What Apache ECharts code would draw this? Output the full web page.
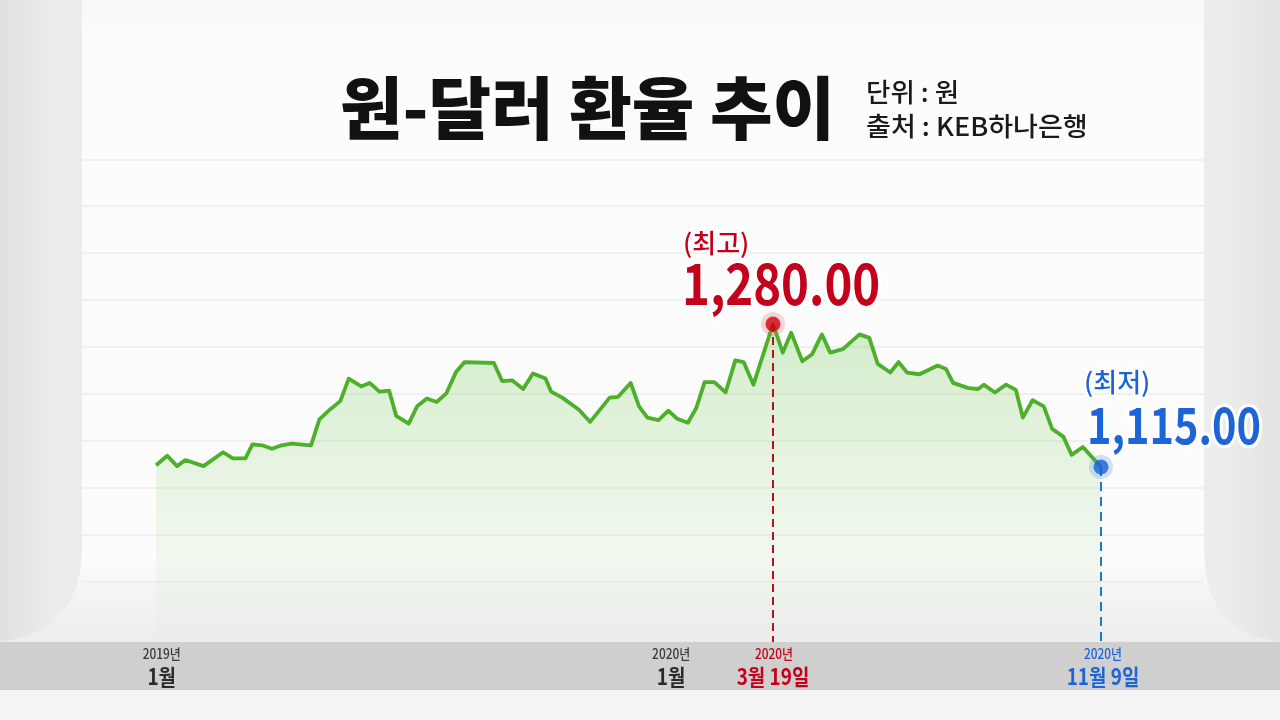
<!DOCTYPE html>
<html><head><meta charset="utf-8">
<script src="https://cdn.jsdelivr.net/npm/echarts@6/dist/echarts.min.js"></script>
<style>html,body{margin:0;padding:0;background:#e4e4e4}#c{width:1280px;height:720px}</style>
</head><body><div id="c"></div>
<script>
// ---- data ----
const dates = ['2019-01-02','2019-01-10','2019-01-17','2019-01-23','2019-02-05','2019-02-19','2019-02-26',
'2019-03-07','2019-03-12','2019-03-19','2019-03-26','2019-04-02','2019-04-09','2019-04-23','2019-04-29',
'2019-05-07','2019-05-14','2019-05-20','2019-05-29','2019-06-04','2019-06-11','2019-06-18','2019-06-23',
'2019-07-02','2019-07-08','2019-07-15','2019-07-22','2019-07-29','2019-08-05','2019-08-11','2019-09-01',
'2019-09-07','2019-09-14','2019-09-22','2019-09-29','2019-10-08','2019-10-12','2019-10-20','2019-11-01',
'2019-11-09','2019-11-23','2019-11-29','2019-12-08','2019-12-14','2019-12-20','2019-12-28',
'2020-01-04','2020-01-10','2020-01-18','2020-01-24','2020-01-30','2020-02-06','2020-02-14','2020-02-21',
'2020-02-27','2020-03-05','2020-03-19','2020-03-26','2020-04-01','2020-04-09','2020-04-16','2020-04-23',
'2020-04-29','2020-05-08','2020-05-20','2020-05-27','2020-06-02','2020-06-11','2020-06-17','2020-06-23',
'2020-07-02','2020-07-15','2020-07-21','2020-07-26','2020-08-06','2020-08-13','2020-08-17','2020-08-25',
'2020-09-02','2020-09-09','2020-09-14','2020-09-21','2020-09-29','2020-10-05','2020-10-13','2020-10-19',
'2020-10-27','2020-11-09'];
const rates = [1117,1128,1116,1123,1116,1132,1125,
1125,1141,1140,1136,1140,1142,1140,1170,
1182,1191,1217,1208,1212,1202,1203,1174,
1165,1185,1194,1190,1200,1225,1236,1235,
1214,1215,1205,1223,1217,1202,1195,1181,
1167,1195,1196,1212,1185,1172,1169,
1180,1171,1166,1183,1213,1213,1201,1238,
1236,1210,1280,1247,1270,1237,1245,1268,
1247,1251,1268,1264,1234,1224,1236,1224,
1222,1232,1228,1212,1206,1205,1210,1201,
1210,1204,1172,1192,1185,1159,1150,1129,
1138,1115];
const peakDate = '2020-03-19', peakValue = 1280;
const lowDate = '2020-11-09', lowValue = 1115;
const titleText = '원-달러 환율 추이';
const unitText = '단위 : 원';
const sourceText = '출처 : KEB하나은행';
const peakTag = '(최고)', lowTag = '(최저)';
const tickDates = ['2019-01-01','2020-01-01'];
const tickYears = ['2019년','2020년'];
const tickMonths = ['1월','1월'];
const peakDateLabel = ['2020년','3월 19일'];
const lowDateLabel = ['2020년','11월 9일'];

const FONT = "'Noto Sans CJK KR','Noto Sans',sans-serif";
const RED = '#c5001b', BLUE = '#1d64d6';
const chart = echarts.init(document.getElementById('c'), null, {renderer:'canvas'});

function fmt(v){ return v.toLocaleString('en-US',{minimumFractionDigits:2, maximumFractionDigits:2}); }

chart.setOption({
  animation:false,
  backgroundColor:'transparent',
  grid:[
    {left:154.7, right:179, top:220, bottom:66.7},
    {left:82, right:76, top:159.3, bottom:138.3}
  ],
  xAxis:[
    {type:'time', gridIndex:0, min:'2019-01-01', max:'2020-11-09', show:false},
    {type:'value', gridIndex:1, min:0, max:1, show:false}
  ],
  yAxis:[
    {type:'value', gridIndex:0, min:900, max:1400, show:false},
    {type:'value', gridIndex:1, min:0, max:9, interval:1, axisLine:{show:false}, axisTick:{show:false},
     axisLabel:{show:false}, splitLine:{show:true, lineStyle:{color:'#ececec', width:1.5}}}
  ],
  series:[
    {type:'line', xAxisIndex:0, yAxisIndex:0, z:3, symbol:'none',
     data: dates.map((d,i)=>[d, rates[i]]),
     lineStyle:{color:'#4cb02a', width:3.8, join:'round'},
     areaStyle:{color:new echarts.graphic.LinearGradient(0,0,0,1,[
       {offset:0,color:'rgba(120,200,90,0.45)'},
       {offset:0.85,color:'rgba(170,220,150,0.12)'},
       {offset:1,color:'rgba(170,220,150,0.02)'}])}
    },
    {type:'scatter', xAxisIndex:0, yAxisIndex:0, z:4, symbolSize:24, silent:true,
     data:[[peakDate,peakValue]], itemStyle:{color:'rgba(225,90,100,0.3)'}},
    {type:'scatter', xAxisIndex:0, yAxisIndex:0, z:5, symbolSize:15, silent:true,
     data:[[peakDate,peakValue]], itemStyle:{color:'#d0000f'},
     markLine:{silent:true, symbol:['none','none'], label:{show:false},
       lineStyle:{color:'#b8101c', type:[8,5], width:2},
       data:[[{coord:[peakDate,peakValue]},{coord:[peakDate,900]}]]}},
    {type:'scatter', xAxisIndex:0, yAxisIndex:0, z:4, symbolSize:24, silent:true,
     data:[[lowDate,lowValue]], itemStyle:{color:'rgba(80,140,230,0.3)'}},
    {type:'scatter', xAxisIndex:0, yAxisIndex:0, z:5, symbolSize:15, silent:true,
     data:[[lowDate,lowValue]], itemStyle:{color:'#1460dc'},
     markLine:{silent:true, symbol:['none','none'], label:{show:false},
       lineStyle:{color:'#2b6fd8', type:[9,6], width:2},
       data:[[{coord:[lowDate,lowValue]},{coord:[lowDate,900]}]]}}
  ]
});

const pk = chart.convertToPixel({gridIndex:0}, [peakDate, peakValue]);
const lw = chart.convertToPixel({gridIndex:0}, [lowDate, lowValue]);
const ticksX = tickDates.map(d => chart.convertToPixel({gridIndex:0}, [d, 1000])[0]);

function txt(x, y, text, size, weight, color, opts){
  opts = opts || {};
  const st = {text:text, font: weight + ' ' + size + 'px ' + FONT, fill:color,
      textAlign:opts.align || 'left', textVerticalAlign:'middle'};
  if (opts.stroke) { st.stroke = '#fff'; st.lineWidth = opts.stroke; }
  return {type:'text', x:x, y:y, z:opts.z || 120, scaleX:opts.sx || 1, silent:true, style:st};
}
function bez(p0,p1,p2,p3,n){
  const out=[];
  for(let i=0;i<=n;i++){const t=i/n,u=1-t;
    out.push([u*u*u*p0[0]+3*u*u*t*p1[0]+3*u*t*t*p2[0]+t*t*t*p3[0],
              u*u*u*p0[1]+3*u*u*t*p1[1]+3*u*t*t*p2[1]+t*t*t*p3[1]]);}
  return out;
}
const panelPts = [[82,0],[1204,0]]
  .concat(bez([1204,545],[1204,608],[1228,634],[1280,642],24))
  .concat([[1280,720],[0,720]])
  .concat(bez([0,642],[52,634],[82,608],[82,545],24));

const els = [
  {type:'rect', z:-100, silent:true, shape:{x:0,y:0,width:1280,height:720},
   style:{fill:new echarts.graphic.LinearGradient(1,0,0,0,[{offset:0,color:'#e2e2e2'},{offset:0.04,color:'#ececec'},{offset:0.96,color:'#ececec'},{offset:1,color:'#e0e0e0'}])}},
  {type:'polygon', z:-90, silent:true, shape:{points:panelPts},
   style:{fill:new echarts.graphic.LinearGradient(0,0,0,1,[
     {offset:0,color:'#f8f8f8'},{offset:0.06,color:'#fcfcfc'},{offset:0.78,color:'#fcfcfc'},
     {offset:0.82,color:'#f4f4f4'},{offset:0.89,color:'#ededed'},{offset:0.96,color:'#f3f3f3'},{offset:1,color:'#f6f6f6'}])}},
  {type:'rect', z:100, silent:true, shape:{x:0,y:642,width:1280,height:48}, style:{fill:'#cfcfcf'}},
  {type:'rect', z:100, silent:true, shape:{x:0,y:690,width:1280,height:30}, style:{fill:'#f5f5f5'}},
  txt(340, 108, titleText, 68, 900, '#111', {sx:1.0, z:110}),
  txt(866, 92, unitText, 26, 500, '#1a1a1a', {sx:1.02, z:110}),
  txt(866, 126, sourceText, 26, 500, '#1a1a1a', {sx:1.04, z:110}),
  txt(pk[0]-90, pk[1]-81, peakTag, 26, 500, RED, {stroke:5}),
  txt(pk[0]-91, pk[1]-41, fmt(peakValue), 57, 'bold', RED, {sx:0.83, stroke:7}),
  txt(lw[0]-17, lw[1]-85, lowTag, 26, 500, BLUE, {stroke:5}),
  txt(lw[0]-14, lw[1]-42, fmt(lowValue), 50, 'bold', BLUE, {sx:0.83, stroke:7}),
  txt(pk[0]+1, 654, peakDateLabel[0], 14, 500, RED, {align:'center', sx:0.85}),
  txt(pk[0], 677, peakDateLabel[1], 22, 'bold', RED, {align:'center', sx:0.86}),
  txt(lw[0]+2, 654, lowDateLabel[0], 14, 500, BLUE, {align:'center', sx:0.85}),
  txt(lw[0]+2, 677, lowDateLabel[1], 22, 'bold', BLUE, {align:'center', sx:0.86})
];
ticksX.forEach((x,i)=>{
  els.push(txt(x+7, 654, tickYears[i], 14, 500, '#3a3a3a', {align:'center', sx:0.85}));
  els.push(txt(x+7, 677, tickMonths[i], 22, 'bold', '#2a2a2a', {align:'center', sx:0.86}));
});
chart.setOption({graphic:{elements:els}});
</script>
</body></html>
